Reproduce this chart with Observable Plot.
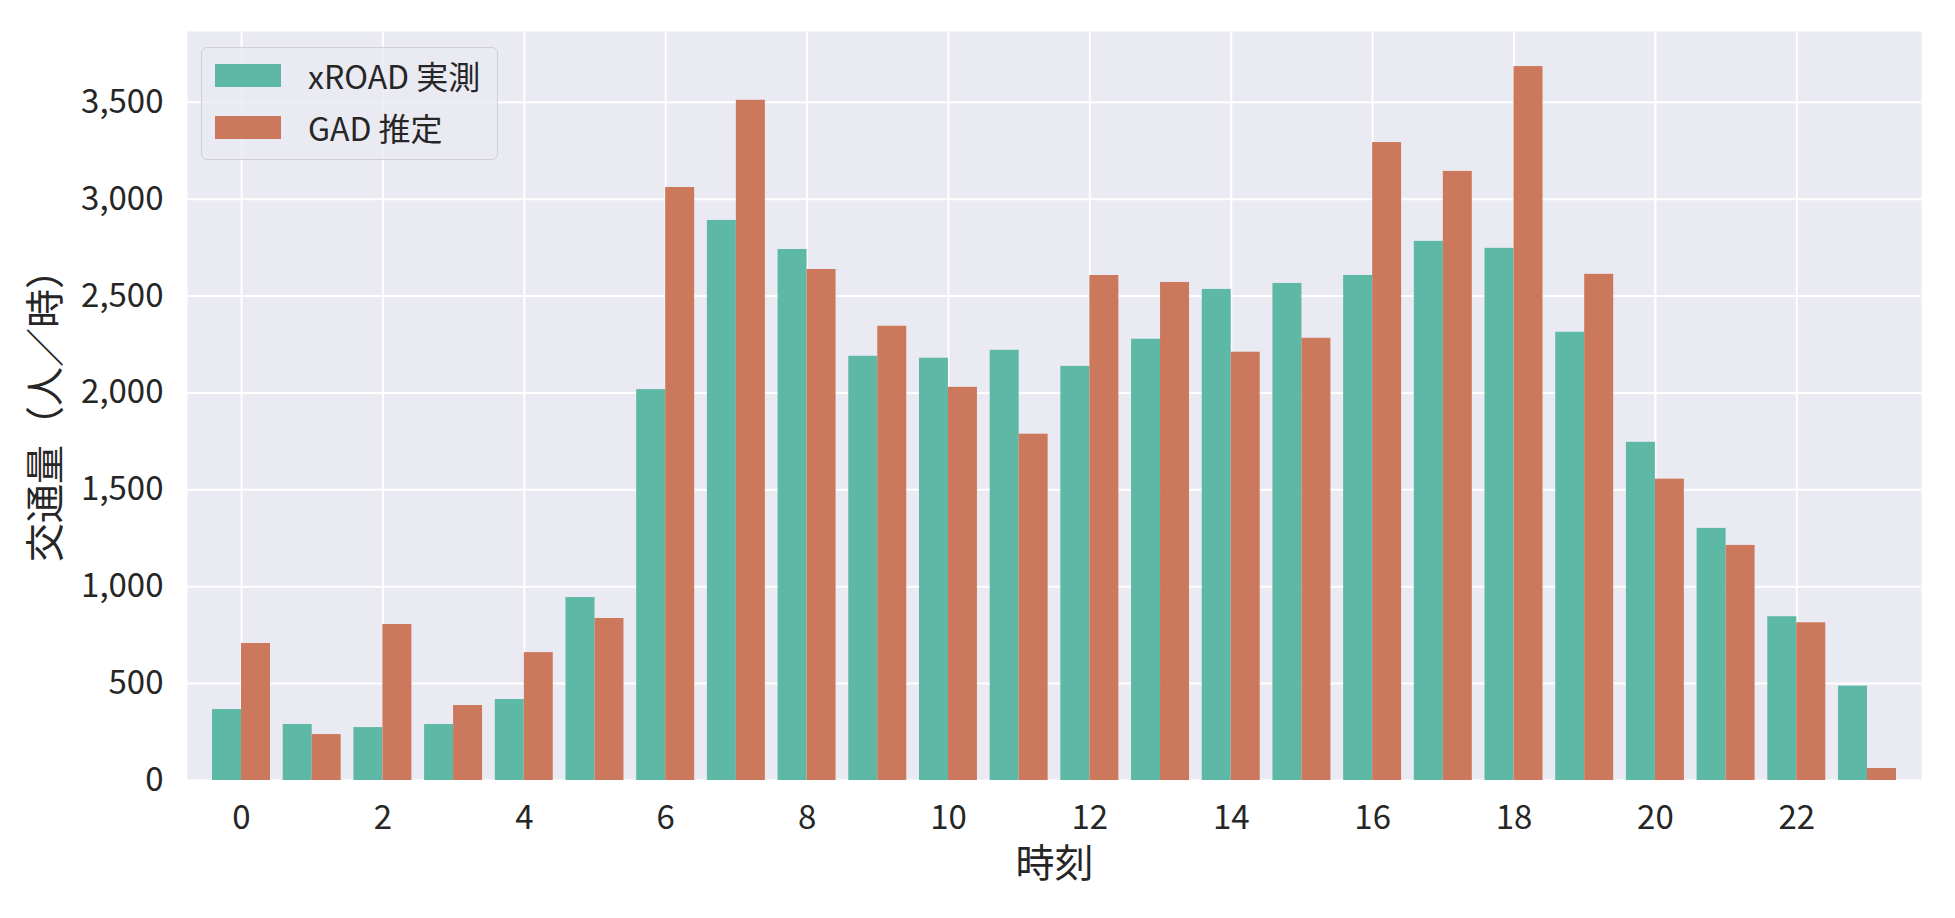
<!DOCTYPE html>
<html>
<head>
<meta charset="utf-8">
<script src="https://cdn.jsdelivr.net/npm/d3@7"></script>
<script src="https://cdn.jsdelivr.net/npm/@observablehq/plot@0.6"></script>
<style>
  html, body { margin: 0; padding: 0; background: #ffffff; }
  #wrap { position: relative; width: 1955px; height: 918px; font-family: "Noto Sans CJK JP", "Noto Sans", sans-serif; color: #262626; }
  #legend {
    position: absolute; left: 201px; top: 47px; width: 297px; height: 113px;
    border: 1.5px solid #cfcfd4; border-radius: 6px; background: rgba(234,234,242,0.8);
    box-sizing: border-box;
  }
  .sw { position: absolute; left: 13px; width: 66px; height: 23px; }
  .lab { position: absolute; left: 106px; font-size: 32px; white-space: nowrap; line-height: 1; }
</style>
</head>
<body>
<div id="wrap"></div>
<script>
// ---- data ----
const hours = [0,1,2,3,4,5,6,7,8,9,10,11,12,13,14,15,16,17,18,19,20,21,22,23];
const xroad = [366, 289, 273, 289, 418, 944, 2017, 2890, 2740, 2189, 2179, 2220, 2137, 2277, 2534, 2565, 2606, 2782, 2746, 2313, 1745, 1301, 845, 487];
const gad   = [707, 237, 805, 387, 660, 836, 3060, 3510, 2637, 2344, 2029, 1787, 2606, 2570, 2210, 2282, 3292, 3143, 3684, 2612, 1555, 1213, 814, 62];
const seriesNames = ["xROAD 実測", "GAD 推定"];
const seriesColors = ["#5eb8a6", "#cc785c"];
const xTicks = [0,2,4,6,8,10,12,14,16,18,20,22];
const yTicks = [0,500,1000,1500,2000,2500,3000,3500];
const xLabel = "時刻";
const yLabel = "交通量（人／時）";

// ---- build table ----
const barW = 0.41;
const rows = [];
hours.forEach((h, i) => {
  rows.push({hour: h, series: seriesNames[0], value: xroad[i], k: 0});
  rows.push({hour: h, series: seriesNames[1], value: gad[i], k: 1});
});

const fmt = d3.format(",");
const W = 1955, H = 918;
const chart = Plot.plot({
  width: W, height: H,
  marginLeft: 187, marginRight: 34, marginTop: 31, marginBottom: 138,
  style: {fontFamily: "'Noto Sans CJK JP', 'Noto Sans', sans-serif", fontSize: "33px", color: "#262626", background: "transparent"},
  x: {type: "linear", domain: [-0.764, 23.764]},
  y: {domain: [0, 3865]},
  color: {domain: seriesNames, range: seriesColors},
  marks: [
    Plot.frame({fill: "#eaeaf2", stroke: null}),
    Plot.gridX({ticks: xTicks, stroke: "#ffffff", strokeOpacity: 1, strokeWidth: 2}),
    Plot.gridY({ticks: yTicks, stroke: "#ffffff", strokeOpacity: 1, strokeWidth: 2}),
    Plot.rectY(rows, {
      x1: d => d.hour - barW + d.k * barW,
      x2: d => d.hour + d.k * barW,
      y1: 0, y2: "value",
      fill: "series"
    }),
    Plot.axisX({ticks: xTicks, tickSize: 0, tickPadding: 25, label: null, fontSize: 33}),
    Plot.axisY({ticks: yTicks, tickSize: 0, tickPadding: 24, tickFormat: fmt, label: null, fontSize: 33}),
    Plot.text([xLabel], {frameAnchor: "bottom", dy: 84, textAnchor: "middle", lineAnchor: "middle", fontSize: 39, fill: "#262626"}),
    Plot.text([yLabel], {frameAnchor: "left", dx: -141, rotate: -90, textAnchor: "middle", lineAnchor: "middle", fontSize: 39, fill: "#262626"})
  ]
});

const wrap = document.getElementById("wrap");
wrap.appendChild(chart);

// legend (HTML overlay inside the axes area)
const leg = document.createElement("div");
leg.id = "legend";
seriesNames.forEach((name, i) => {
  const top = 16 + i * 52;
  const sw = document.createElement("div");
  sw.className = "sw";
  sw.style.top = top + "px";
  sw.style.background = seriesColors[i];
  const lab = document.createElement("div");
  lab.className = "lab";
  lab.style.top = (top - 5) + "px";
  lab.textContent = name;
  leg.appendChild(sw);
  leg.appendChild(lab);
});
wrap.appendChild(leg);
</script>
</body>
</html>
